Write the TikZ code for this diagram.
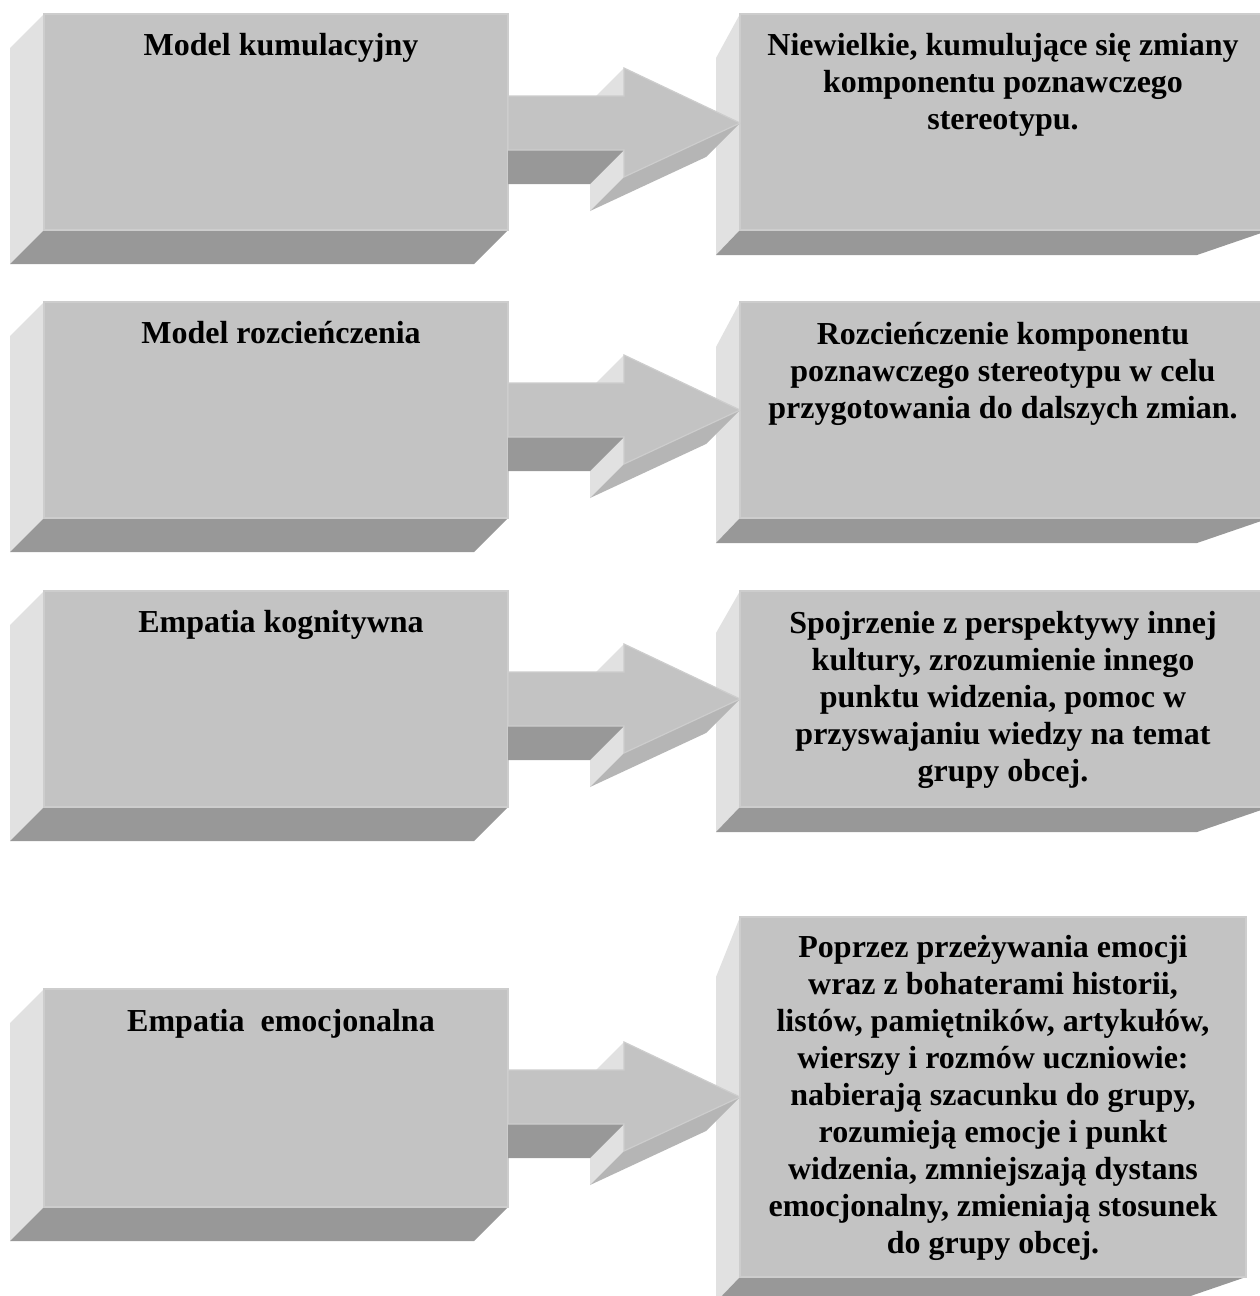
\documentclass[tikz,border=0pt]{standalone}
\usepackage{fontspec}
\setmainfont{Liberation Serif}
\definecolor{frontgray}{RGB}{195,195,195}
\definecolor{lightgraysd}{RGB}{225,225,225}
\definecolor{darkgraysd}{RGB}{152,152,152}
\definecolor{undergray}{RGB}{181,181,181}
\definecolor{edgegray}{RGB}{205,205,205}
\tikzset{
  frontface/.style={fill=frontgray, draw=edgegray, line width=1.2pt, line join=miter},
  lightside/.style={fill=lightgraysd},
  darkside/.style={fill=darkgraysd},
  underside/.style={fill=undergray},
  lbl/.style={font=\fontsize{32}{37}\selectfont\bfseries, align=center, inner sep=0pt, anchor=base, text=black}
}
% left block: top, bottom
\newcommand{\leftblock}[2]{%
  \fill[lightside] (10,#1+34) -- (44,#1) -- (44,#2) -- (10,#2+34) -- cycle;
  \fill[darkside] (10,#2+34) -- (44,#2) -- (508,#2) -- (474,#2+34) -- cycle;
  \path[frontface] (44,#1) rectangle (508,#2);
}
% right block: top, bottom, diagonal drop, right edge
\newcommand{\rightblock}[4]{%
  \fill[lightside] (716,#1+#3) -- (740,#1) -- (740,#2) -- (716,#2+25) -- cycle;
  \fill[darkside] (716,#2+25) -- (740,#2) -- (#4,#2) -- (#4-73,#2+25) -- cycle;
  \path[frontface] (740,#1) rectangle (#4,#2);
}
% 3D arrow: tip y
\newcommand{\bigarrow}[1]{%
  \fill[lightside] (624,#1-55) -- (624,#1+54) -- (590,#1+88) -- (590,#1-21) -- cycle;
  \fill[darkside] (508,#1+27) -- (624,#1+27) -- (590,#1+61) -- (508,#1+61) -- cycle;
  \fill[underside] (624,#1+54) -- (740,#1) -- (706,#1+34) -- (590,#1+88) -- cycle;
  \path[frontface] (508,#1-27) -- (624,#1-27) -- (624,#1-55) -- (740,#1) -- (624,#1+54) -- (624,#1+27) -- (508,#1+27) -- cycle;
}
\begin{document}
\begin{tikzpicture}[x=1pt,y=-1pt]
\useasboundingbox (0,0) rectangle (1260,1296);
\fill[white] (0,0) rectangle (1260,1296);
\clip (0,0) rectangle (1260,1296);

% row 1
\leftblock{14}{230}
\rightblock{14}{230}{44}{1270}
\bigarrow{123}
\node[lbl] (l1) at (281,55) {Model kumulacyjny};
\node[lbl] (r1) at (1003,129) {Niewielkie, kumulujące się zmiany\\komponentu poznawczego\\stereotypu.};

% row 2
\leftblock{302}{518}
\rightblock{302}{518}{45}{1270}
\bigarrow{410}
\node[lbl] (l2) at (281,343) {Model rozcieńczenia};
\node[lbl] (r2) at (1003,418) {Rozcieńczenie komponentu\\poznawczego stereotypu w celu\\przygotowania do dalszych zmian.};

% row 3
\leftblock{591}{807}
\rightblock{591}{807}{42}{1270}
\bigarrow{699}
\node[lbl] (l3) at (281,632) {Empatia kognitywna};
\node[lbl] (r3) at (1003,781) {Spojrzenie z perspektywy innej\\kultury, zrozumienie innego\\punktu widzenia, pomoc w\\przyswajaniu wiedzy na temat\\grupy obcej.};

% row 4
\leftblock{989}{1207}
\rightblock{917}{1277}{60}{1246}
\bigarrow{1097}
\node[lbl] (l4) at (281,1031) {Empatia\ \ emocjonalna};
\node[lbl] (r4) at (993,1253) {Poprzez przeżywania emocji\\wraz z bohaterami historii,\\listów, pamiętników, artykułów,\\wierszy i rozmów uczniowie:\\nabierają szacunku do grupy,\\rozumieją emocje i punkt\\widzenia, zmniejszają dystans\\emocjonalny, zmieniają stosunek\\do grupy obcej.};
\end{tikzpicture}
\end{document}
